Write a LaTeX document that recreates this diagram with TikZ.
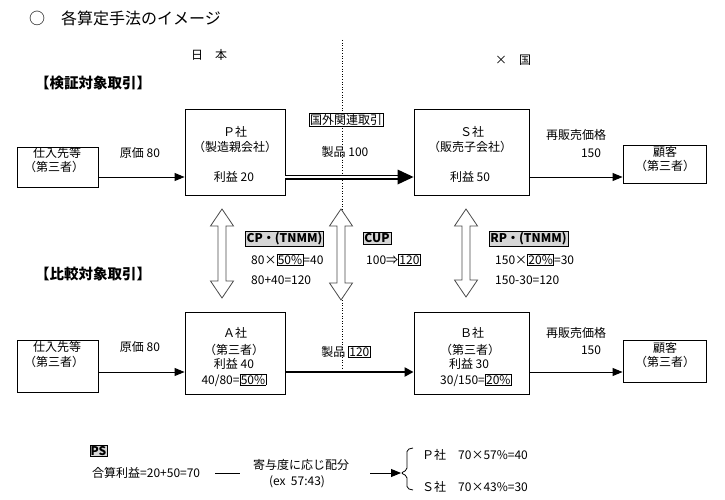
\documentclass[tikz,border=0pt]{standalone}
\usepackage{fontspec}
\setmainfont{Noto Sans CJK JP}
\usetikzlibrary{arrows.meta,calc}
\newcommand\fsz{\fontsize{12pt}{14pt}\selectfont}
\newcommand\bx[1]{{\setlength{\fboxsep}{0.6pt}\setlength{\fboxrule}{0.7pt}\fbox{#1}}}
\definecolor{lbl}{HTML}{D6D6D6}
\definecolor{arrc}{HTML}{4A4A4A}
\newcommand\hollowarr[3]{%
\draw[harrow] (#1,#2) -- ({#1+11.5},{#2+17}) -- ({#1+4},{#2+17}) -- ({#1+4},{#3-17}) -- ({#1+11.5},{#3-17}) -- (#1,#3) -- ({#1-11.5},{#3-17}) -- ({#1-4},{#3-17}) -- ({#1-4},{#2+17}) -- ({#1-11.5},{#2+17}) -- cycle;}
\begin{document}
\begin{tikzpicture}[x=1pt,y=-1pt,
  box/.style={draw, line width=0.9pt, inner sep=0},
  t/.style={inner sep=0, font=\fsz},
  lab/.style={draw=black, line width=0.5pt, fill=lbl, inner sep=1.2pt, font=\fsz\bfseries},
  thinarr/.style={line width=0.9pt, -{Triangle[length=10pt,width=8pt]}},
  thickarr/.style={line width=2.4pt, -{Triangle[length=9pt,width=9pt]}},
  harrow/.style={draw=arrc, line width=0.8pt, fill=white, line join=miter},
  sec/.style={inner sep=0, font=\fontsize{14.5pt}{16pt}\selectfont\bfseries},
]
\useasboundingbox (0,0) rectangle (725,500);

% title and regions
\node[inner sep=0, anchor=west, font=\fontsize{16pt}{18pt}\selectfont] (title) at (29,18) {○　各算定手法のイメージ};
\node[t] (jp) at (209,55) {日　本};
\node[t] (fx) at (513,60) {×　国};
\node[sec] (sec1) at (93,83) {【検証対象取引】};
\node[sec] (sec2) at (93,274) {【比較対象取引】};

% dotted border
\coordinate (dtop) at (342,40);
\coordinate (dbot) at (342,368);
\draw[dotted, line width=0.6pt] (dtop) -- (dbot);

% row coordinates
\coordinate (r1) at (0,177);
\coordinate (r2) at (0,372);

% ---------- upper row ----------
\node[box, minimum width=81pt, minimum height=40pt] (s1) at (57.5,167) {};
\node[t] (s1a) at (57,153) {仕入先等};
\node[t] (s1b) at (54,167) {（第三者）};
\node[t] (c1) at (140,153) {原価 80};

\node[box, minimum width=100pt, minimum height=86pt] (P) at (235,152) {};
\node[t] (Pa) at (235,132) {Ｐ社};
\node[t] (Pb) at (235,147) {（製造親会社）};
\node[t] (Pc) at (234,177) {利益 20};

\node[draw, line width=0.8pt, fill=white, inner sep=1pt, font=\fsz] (kg) at (346,120) {国外関連取引};
\node[t] (pr1) at (345,152) {製品 100};

\node[box, minimum width=115pt, minimum height=86pt] (S) at (471.5,152) {};
\node[t] (Sa) at (472,132) {Ｓ社};
\node[t] (Sb) at (470,147) {（販売子会社）};
\node[t] (Sc) at (470,177) {利益 50};

\node[t] (rs1) at (576,135) {再販売価格};
\node[t] (rs1n) at (591,153) {150};

\node[box, minimum width=83pt, minimum height=38pt] (K1) at (664.5,164) {};
\node[t] (K1a) at (665,152) {顧客};
\node[t] (K1b) at (665,166) {（第三者）};

\draw[thinarr] (s1.east |- r1) -- (P.west |- r1);
\coordinate (dtip) at (S.west |- r1);
\draw[line width=1.7pt, double=white, double distance=1.6pt] (P.east |- r1) -- ($(dtip)+(-15,0)$);
\fill ($(dtip)+(-16,-7.5)$) -- (dtip) -- ($(dtip)+(-16,7.5)$) -- cycle;
\draw[thinarr] (S.east |- r1) -- (K1.west |- r1);

% ---------- lower row ----------
\node[box, minimum width=81pt, minimum height=52pt] (s2) at (57.5,366) {};
\node[t] (s2a) at (57,347) {仕入先等};
\node[t] (s2b) at (54,362) {（第三者）};
\node[t] (c2) at (140,347) {原価 80};

\node[box, minimum width=100pt, minimum height=82pt] (A) at (235,353) {};
\node[t] (Aa) at (235,333) {Ａ社};
\node[t] (Ab) at (234,350) {（第三者）};
\node[t] (Ac) at (234,364) {利益 40};
\node[t] (Ad) at (234,380) {40/80=\bx{50\%}};

\node[t] (pr2) at (346,352) {製品 \bx{120}};

\node[box, minimum width=115pt, minimum height=82pt] (B) at (471.5,353) {};
\node[t] (Ba) at (472,333) {Ｂ社};
\node[t] (Bb) at (470,350) {（第三者）};
\node[t] (Bc) at (469,364) {利益 30};
\node[t] (Bd) at (476,380) {30/150=\bx{20\%}};

\node[t] (rs2) at (576,333) {再販売価格};
\node[t] (rs2n) at (591,350) {150};

\node[box, minimum width=83pt, minimum height=42pt] (K2) at (664.5,361) {};
\node[t] (K2a) at (665,348) {顧客};
\node[t] (K2b) at (665,362) {（第三者）};

\draw[thinarr] (s2.east |- r2) -- (A.west |- r2);
\draw[thickarr] (A.east |- r2) -- (B.west |- r2);
\draw[thinarr] (B.east |- r2) -- (K2.west |- r2);

% ---------- middle ----------
\hollowarr{222}{209}{298}
\hollowarr{341}{209}{300}
\hollowarr{466}{209}{297}

\node[lab] (cp) at (284.5,238.5) {CP・(TNMM)};
\node[t, anchor=west] (cp1) at (251,260) {80×\bx{50\%}=40};
\node[t, anchor=west] (cp2) at (251,280) {80+40=120};

\node[lab] (cup) at (377,238.5) {CUP};
\node[t, anchor=west] (cup1) at (366,260) {100⇒\bx{120}};

\node[lab] (rp) at (528.5,238.5) {RP・(TNMM)};
\node[t, anchor=west] (rp1) at (495,260) {150×\bx{20\%}=30};
\node[t, anchor=west] (rp2) at (495,280) {150-30=120};

% ---------- PS ----------
\node[lab, inner sep=0.8pt] (ps) at (98.5,451) {PS};
\node[t, anchor=west] (ps1) at (92,473) {合算利益=20+50=70};
\coordinate (l1) at (215,473);
\coordinate (l2) at (240,473);
\draw[line width=0.8pt] (l1) -- (l2);
\node[t] (ps2) at (301,465) {寄与度に応じ配分};
\node[t] (ps3) at (297,482) {(ex\ \ 57:43)};
\coordinate (a1) at (370,473);
\coordinate (bt) at (401,473);
\draw[thinarr] (a1) -- (bt);
\draw[line width=0.8pt, rounded corners=2pt] (413,448) -- (407,449.5) -- (407,470) -- (bt) -- (407,476) -- (407,488.5) -- (413,490);
\node[t, anchor=west] (psP) at (422,455) {Ｐ社　70×57\%=40};
\node[t, anchor=west] (psS) at (422,487) {Ｓ社　70×43\%=30};
\end{tikzpicture}
\end{document}
